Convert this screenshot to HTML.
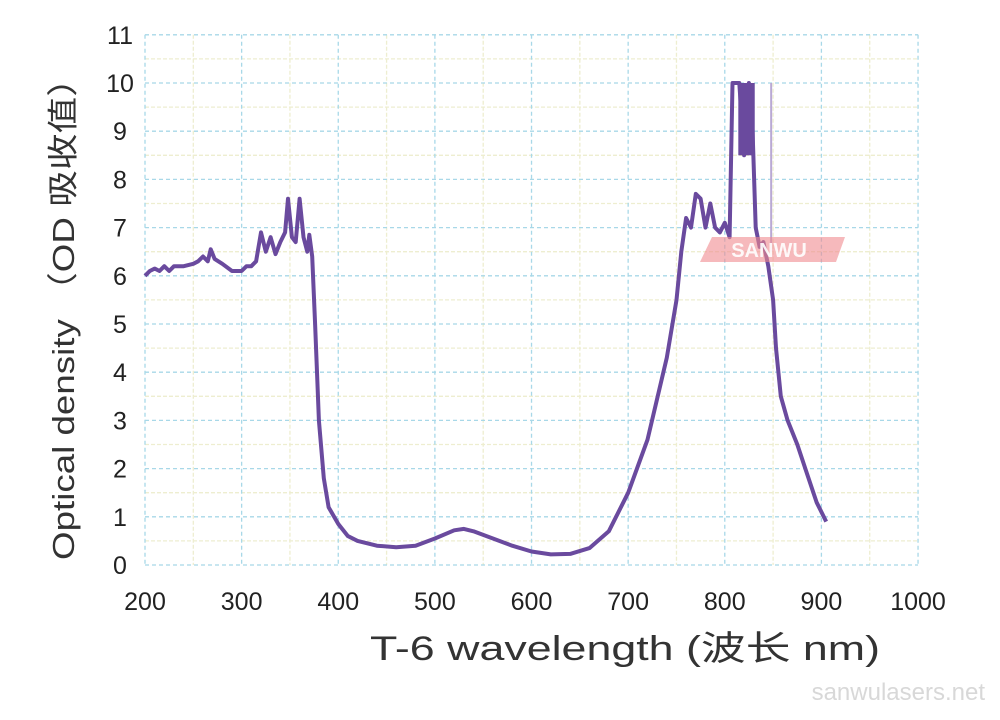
<!DOCTYPE html>
<html><head><meta charset="utf-8"><style>
body{margin:0;background:#fff;}
svg{display:block;font-family:"Liberation Sans","Noto Sans CJK SC",sans-serif;}
</style></head><body>
<svg id="chart" width="1000" height="720">
<g id="grid"></g>
<g id="ticks"></g>
<path id="line" fill="none" stroke="#6a4a9e" stroke-width="4" stroke-linejoin="round"/>
<rect id="block" fill="#6a4a9e"/>
<line id="thin" stroke="#b9a8d4" stroke-width="2"/>
<polygon points="712,237 845,237 836,262 700,262" fill="#f08a90" opacity="0.6"/>
<text x="769" y="257" text-anchor="middle" font-size="20" font-weight="bold" fill="#fff" opacity="0.9">SANWU</text>
<text transform="translate(74,310) rotate(-90)" text-anchor="middle" font-size="31" fill="#333" textLength="500" lengthAdjust="spacingAndGlyphs">Optical density （OD 吸收值）</text>
<text x="625" y="660" text-anchor="middle" font-size="34" fill="#333" textLength="510" lengthAdjust="spacingAndGlyphs">T-6  wavelength (波长 nm)</text>
<text x="985" y="700" text-anchor="end" font-size="24" fill="#d8d8d8">sanwulasers.net</text>
</svg>
<script>
const xTicks=[200,300,400,500,600,700,800,900,1000];
const yTicks=[0,1,2,3,4,5,6,7,8,9,10,11];
const wl=[200,205,210,215,220,225,230,240,250,255,260,265,268,272,280,290,300,305,310,315,320,325,330,335,340,345,348,352,356,360,364,368,370,373,376,380,385,390,400,410,420,440,460,480,500,520,530,540,560,580,600,620,640,660,680,700,720,740,750,755,760,765,770,775,780,785,790,795,800,805,808,812,815,820,825,828,832,836,840,845,850,853,858,865,875,885,895,905];
const od=[6.0,6.1,6.15,6.1,6.2,6.1,6.2,6.2,6.25,6.3,6.4,6.3,6.55,6.35,6.25,6.1,6.1,6.2,6.2,6.3,6.9,6.5,6.8,6.45,6.7,6.9,7.6,6.8,6.7,7.6,6.8,6.5,6.85,6.4,5.0,3.0,1.8,1.2,0.85,0.6,0.5,0.4,0.37,0.4,0.55,0.72,0.75,0.7,0.55,0.4,0.28,0.22,0.23,0.35,0.7,1.5,2.6,4.3,5.5,6.5,7.2,7.0,7.7,7.6,7.0,7.5,7.0,6.9,7.1,6.8,10,10,10,8.5,10,9.5,7.0,6.6,6.7,6.2,5.5,4.5,3.5,3.0,2.5,1.9,1.3,0.9];
const blockRange=[814,831,8.5,10];
const spike=[848,6.5,10];
const X=w=>145+(w-200)*0.9663, Y=v=>565-v*48.2;
const NS="http://www.w3.org/2000/svg";
const grid=document.getElementById('grid'), ticks=document.getElementById('ticks');
function ln(x1,y1,x2,y2,c,d){const l=document.createElementNS(NS,'line');
l.setAttribute('x1',x1);l.setAttribute('y1',y1);l.setAttribute('x2',x2);l.setAttribute('y2',y2);
l.setAttribute('stroke',c);l.setAttribute('stroke-width',1.3);l.setAttribute('stroke-dasharray',d);


grid.appendChild(l);}
for(let w=250;w<1000;w+=100) ln(X(w),Y(11),X(w),Y(0),'#eeeed0','4 2');
for(let v=0.5;v<11;v+=1) ln(X(200),Y(v),X(1000),Y(v),'#eeeed0','4 2');
xTicks.forEach(w=>ln(X(w),Y(11),X(w),Y(0),'#a8d8e8','4 3'));
yTicks.forEach(v=>ln(X(200),Y(v),X(1000),Y(v),'#a8d8e8','4 3'));
xTicks.forEach(w=>{const t=document.createElementNS(NS,'text');
t.setAttribute('x',X(w));t.setAttribute('y',610);t.setAttribute('text-anchor','middle');
t.setAttribute('font-size','25');t.setAttribute('fill','#222');t.textContent=w;


ticks.appendChild(t);});
yTicks.forEach(v=>{const t=document.createElementNS(NS,'text');
t.setAttribute('x',120);t.setAttribute('y',Y(v)+9);t.setAttribute('text-anchor','middle');
t.setAttribute('font-size','25');t.setAttribute('fill','#222');t.textContent=v;


ticks.appendChild(t);});
document.getElementById('line').setAttribute('d',wl.map((w,i)=>(i?'L':'M')+X(w).toFixed(1)+','+Y(od[i]).toFixed(1)).join(''));
const b=document.getElementById('block');
b.setAttribute('x',X(blockRange[0]));b.setAttribute('width',X(blockRange[1])-X(blockRange[0]));
b.setAttribute('y',Y(blockRange[3]));b.setAttribute('height',Y(blockRange[2])-Y(blockRange[3]));
const s=document.getElementById('thin');
s.setAttribute('x1',X(spike[0]));s.setAttribute('x2',X(spike[0]));
s.setAttribute('y1',Y(spike[1]));s.setAttribute('y2',Y(spike[2]));
</script>
</body></html>
